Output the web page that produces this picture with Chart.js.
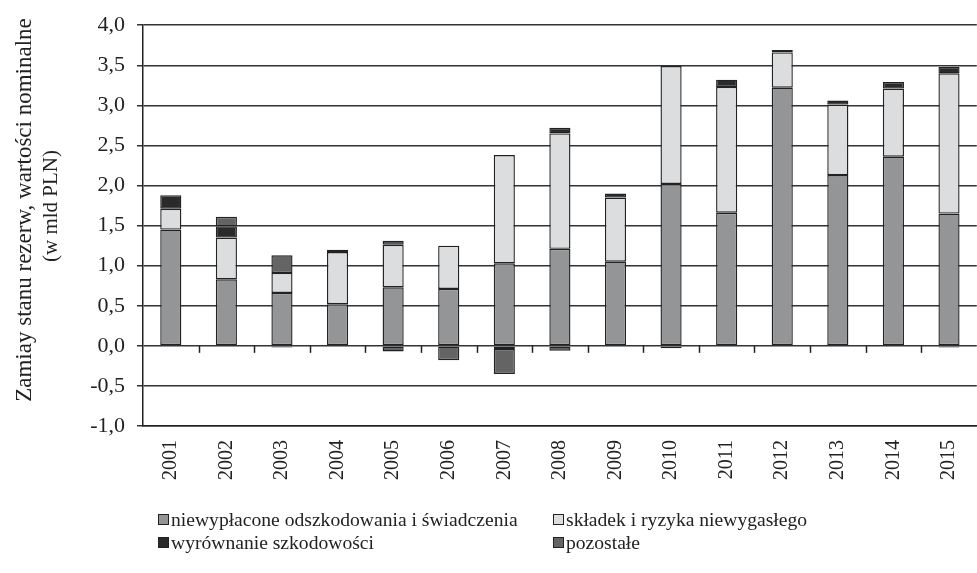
<!DOCTYPE html>
<html>
<head>
<meta charset="utf-8">
<script src="https://cdn.jsdelivr.net/npm/chart.js@4.4.1/dist/chart.umd.min.js"></script>
<style>
  html, body { margin: 0; padding: 0; background: #fff; overflow: hidden; }
  #wrap { position: relative; width: 977px; height: 573px; overflow: hidden; }
  canvas { position: absolute; left: 0; top: 0; }
  .legend-item { position: absolute; font-family: 'Liberation Serif', serif; font-size: 19.6px; color: #222; white-space: nowrap; line-height: 22px; }
  .legend-item .box { display: inline-block; width: 9px; height: 9px; border: 1px solid #222; margin-right: 2px; vertical-align: 1px; }
  .ytitle { position: absolute; font-family: 'Liberation Serif', serif; color: #222; white-space: nowrap;
            transform: translate(-50%, -50%) rotate(-90deg); line-height: 1; }
</style>
</head>
<body>
<div id="wrap">
  <canvas id="chart" width="987" height="573"></canvas>
  <div class="ytitle" style="left:23px; top:210px; font-size:23px;">Zamiay stanu rezerw, wartości nominalne</div>
  <div class="ytitle" style="left:50px; top:206px; font-size:21px;">(w mld PLN)</div>
  <div id="legend"></div>
</div>
<script>
const years = ['2001', '2002', '2003', '2004', '2005', '2006', '2007', '2008', '2009', '2010', '2011', '2012', '2013', '2014', '2015'];

// zmiany rezerw (mld PLN)
const niewyplacone = [1.45, 0.83, 0.66, 0.52, 0.73, 0.71, 1.03, 1.21, 1.05, 2.02, 1.66, 3.22, 2.13, 2.36, 1.65];
const skladek = [0.26, 0.52, 0.25, 0.65, 0.53, 0.54, 1.35, 1.44, 0.80, 1.47, 1.57, 0.44, 0.88, 0.85, 1.75];
const wyrownanie = [0.17, 0.14, -0.02, 0.03, 0.05, null, -0.04, 0.07, 0.05, -0.03, 0.09, 0.03, 0.05, 0.08, 0.08];
const pozostale = [null, 0.12, 0.22, null, -0.07, -0.18, -0.31, -0.06, null, null, null, null, null, null, -0.02];

const yTicks = [-1, -0.5, 0, 0.5, 1, 1.5, 2, 2.5, 3, 3.5, 4];

const seriesNames = ['niewypłacone odszkodowania i świadczenia', 'składek i ryzyka niewygasłego', 'wyrównanie szkodowości', 'pozostałe'];
const seriesColors = ['#949597', '#dcddde', '#2a2a2a', '#646464'];

const FONT = "'Liberation Serif', serif";
const INK = '#222';

// kreski na linii zera miedzy kategoriami
const zeroTicks = {
    id: 'zeroTicks',
    afterDatasetsDraw(chart) {
        const { ctx, scales: { x, y } } = chart;
        const y0 = y.getPixelForValue(0);
        const step = x.width / years.length;
        ctx.save();
        ctx.strokeStyle = INK;
        ctx.lineWidth = 1.5;
        for (let i = 1; i < years.length; i++) {
            const px = Math.round(x.left + step * i) + 0.5;
            ctx.beginPath();
            ctx.moveTo(px, y0);
            ctx.lineTo(px, y0 + 7);
            ctx.stroke();
        }
        ctx.restore();
    }
};

const datasets = [niewyplacone, skladek, wyrownanie, pozostale].map((values, i) => ({
    label: seriesNames[i],
    data: values,
    backgroundColor: seriesColors[i],
    borderColor: INK,
    borderWidth: 1.4,
    borderSkipped: false,
    categoryPercentage: 1,
    barPercentage: 0.38
}));

new Chart(document.getElementById('chart'), {
    type: 'bar',
    data: { labels: years, datasets: datasets },
    options: {
        responsive: false,
        animation: false,
        devicePixelRatio: 1,
        layout: { padding: { top: 11, right: 0, bottom: 79, left: 0 } },
        plugins: { legend: { display: false }, tooltip: { enabled: false } },
        scales: {
            x: {
                stacked: true,
                grid: { display: false, drawTicks: false },
                border: { display: true, color: INK, width: 1.5 },
                ticks: {
                    minRotation: 90, maxRotation: 90,
                    padding: 14,
                    color: INK,
                    font: { family: FONT, size: 20 }
                }
            },
            y: {
                stacked: true,
                min: -1, max: 4,
                afterBuildTicks(scale) {
                    scale.ticks = yTicks.map(v => ({ value: v }));
                },
                afterFit(scale) { scale.width = 143; },
                grid: { color: '#333', lineWidth: 1.5, tickLength: 6 },
                border: { display: true, color: INK, width: 1.5 },
                ticks: {
                    padding: 12,
                    color: INK,
                    font: { family: FONT, size: 22 },
                    callback: v => v.toFixed(1).replace('.', ',')
                }
            }
        }
    },
    plugins: [zeroTicks]
});

// legenda w dwoch kolumnach
const legendPos = [[158, 509], [553, 509], [158, 532], [553, 532]];
const legend = document.getElementById('legend');
seriesNames.forEach((name, i) => {
    const item = document.createElement('div');
    item.className = 'legend-item';
    item.style.left = legendPos[i][0] + 'px';
    item.style.top = legendPos[i][1] + 'px';
    item.innerHTML = `<span class="box" style="background:${seriesColors[i]}"></span>${name}`;
    legend.appendChild(item);
});
</script>
</body>
</html>
